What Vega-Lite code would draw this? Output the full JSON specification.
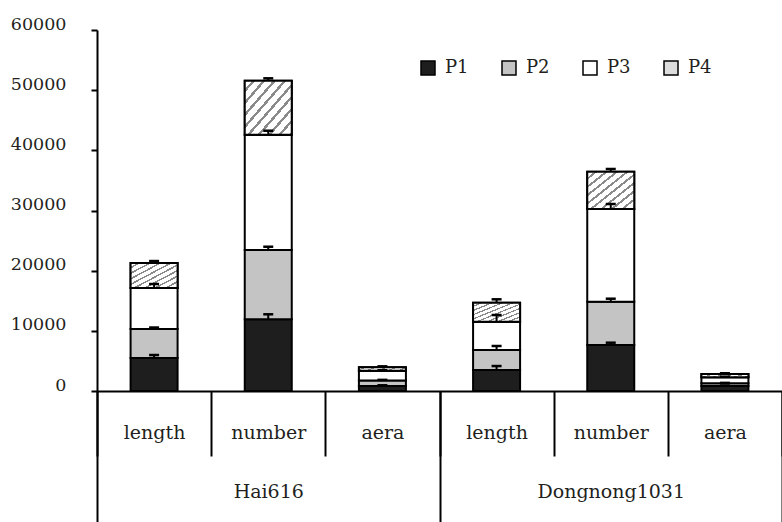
{
  "$schema": "https://vega.github.io/schema/vega-lite/v6.json",
  "autosize": {"type": "none"},
  "padding": {"left": 97, "top": 30, "right": 0, "bottom": 131},
  "width": 685,
  "height": 361,
  "background": "white",
  "config": {"view": {"stroke": null}, "font": "DejaVu Serif"},
  "data": {
    "values": [
      {"bar": "Hai616|length", "group": "Hai616", "part": "P1", "lo": 0, "hi": 5490, "errHi": 5980},
      {"bar": "Hai616|length", "group": "Hai616", "part": "P2", "lo": 5490, "hi": 10300, "errHi": 10550},
      {"bar": "Hai616|length", "group": "Hai616", "part": "P3", "lo": 10300, "hi": 17120, "errHi": 17780},
      {"bar": "Hai616|length", "group": "Hai616", "part": "P4", "lo": 17120, "hi": 21270, "errHi": 21600},
      {"bar": "Hai616|number", "group": "Hai616", "part": "P1", "lo": 0, "hi": 11920, "errHi": 12750},
      {"bar": "Hai616|number", "group": "Hai616", "part": "P2", "lo": 11920, "hi": 23440, "errHi": 23980},
      {"bar": "Hai616|number", "group": "Hai616", "part": "P3", "lo": 23440, "hi": 42600, "errHi": 43260},
      {"bar": "Hai616|number", "group": "Hai616", "part": "P4", "lo": 42600, "hi": 51570, "errHi": 51970},
      {"bar": "Hai616|aera", "group": "Hai616", "part": "P1", "lo": 0, "hi": 850, "errHi": 950},
      {"bar": "Hai616|aera", "group": "Hai616", "part": "P2", "lo": 850, "hi": 1750, "errHi": 1850},
      {"bar": "Hai616|aera", "group": "Hai616", "part": "P3", "lo": 1750, "hi": 3350, "errHi": 3450},
      {"bar": "Hai616|aera", "group": "Hai616", "part": "P4", "lo": 3350, "hi": 3940, "errHi": 4100},
      {"bar": "Dongnong1031|length", "group": "Dongnong1031", "part": "P1", "lo": 0, "hi": 3490, "errHi": 4150},
      {"bar": "Dongnong1031|length", "group": "Dongnong1031", "part": "P2", "lo": 3490, "hi": 6810, "errHi": 7480},
      {"bar": "Dongnong1031|length", "group": "Dongnong1031", "part": "P3", "lo": 6810, "hi": 11520, "errHi": 12630},
      {"bar": "Dongnong1031|length", "group": "Dongnong1031", "part": "P4", "lo": 11520, "hi": 14680, "errHi": 15240},
      {"bar": "Dongnong1031|number", "group": "Dongnong1031", "part": "P1", "lo": 0, "hi": 7650, "errHi": 8030},
      {"bar": "Dongnong1031|number", "group": "Dongnong1031", "part": "P2", "lo": 7650, "hi": 14840, "errHi": 15340},
      {"bar": "Dongnong1031|number", "group": "Dongnong1031", "part": "P3", "lo": 14840, "hi": 30250, "errHi": 31080},
      {"bar": "Dongnong1031|number", "group": "Dongnong1031", "part": "P4", "lo": 30250, "hi": 36450, "errHi": 36900},
      {"bar": "Dongnong1031|aera", "group": "Dongnong1031", "part": "P1", "lo": 0, "hi": 830, "errHi": 900},
      {"bar": "Dongnong1031|aera", "group": "Dongnong1031", "part": "P2", "lo": 830, "hi": 1280, "errHi": 1350},
      {"bar": "Dongnong1031|aera", "group": "Dongnong1031", "part": "P3", "lo": 1280, "hi": 2300, "errHi": 2380},
      {"bar": "Dongnong1031|aera", "group": "Dongnong1031", "part": "P4", "lo": 2300, "hi": 2830, "errHi": 2950}
    ]
  },
  "layer": [
    {
      "layer": [
        {
          "mark": {"type": "bar", "width": 47, "stroke": "black", "strokeWidth": 2},
          "encoding": {
            "x": {
              "field": "bar", "type": "nominal",
              "sort": ["Hai616|length", "Hai616|number", "Hai616|aera", "Dongnong1031|length", "Dongnong1031|number", "Dongnong1031|aera"],
              "scale": {"paddingInner": 0, "paddingOuter": 0},
              "axis": {
                "title": null, "orient": "bottom",
                "labelExpr": "split(datum.label, '|')[1]",
                "tickBand": "extent", "tickSize": 65, "tickWidth": 2, "tickColor": "black",
                "domainColor": "black", "domainWidth": 2,
                "labelFont": "DejaVu Serif", "labelFontSize": 19, "labelColor": "#231f20",
                "labelAngle": 0, "labelPadding": -18, "labelBaseline": "alphabetic"
              }
            },
            "y": {
              "field": "hi", "type": "quantitative",
              "scale": {"domain": [0, 60000], "nice": false},
              "axis": {
                "title": null, "values": [0, 10000, 20000, 30000, 40000, 50000, 60000],
                "format": "d", "grid": false,
                "tickSize": 6, "tickWidth": 2, "tickColor": "black",
                "domainColor": "black", "domainWidth": 2,
                "labelFont": "DejaVu Serif", "labelFontSize": 17.5, "labelColor": "#231f20",
                "labelPadding": 25, "labelBaseline": "alphabetic", "labelOffset": -1
              }
            },
            "y2": {"field": "lo"},
            "color": {
              "field": "part", "type": "nominal",
              "scale": {"domain": ["P1", "P2", "P3", "P4"], "range": ["#1e1e1e", "#c4c4c4", "#ffffff", "#dcdcdc"]},
              "legend": {
                "orient": "none", "legendX": 322, "legendY": 29, "direction": "horizontal",
                "title": null, "symbolType": "square", "symbolSize": 196,
                "symbolStrokeColor": "black", "symbolStrokeWidth": 1.5, "symbolOpacity": 1,
                "labelFont": "DejaVu Serif", "labelFontSize": 18, "labelColor": "#231f20",
                "columnPadding": 30, "labelOffset": 8, "padding": 0
              }
            }
          }
        },
        {
          "transform": [{"filter": "datum.part === 'P4'"}],
          "mark": {
            "type": "bar", "width": 47, "stroke": "black", "strokeWidth": 2,
            "fill": {
              "gradient": "linear", "x1": 0, "y1": 0, "x2": 1, "y2": 1,
              "stops": [
                {"offset": 0, "color": "#ffffff"}, {"offset": 0.0778, "color": "#ffffff"}, {"offset": 0.0778, "color": "#8a8a8a"}, {"offset": 0.1111, "color": "#8a8a8a"},
                {"offset": 0.1111, "color": "#ffffff"}, {"offset": 0.1889, "color": "#ffffff"}, {"offset": 0.1889, "color": "#8a8a8a"}, {"offset": 0.2222, "color": "#8a8a8a"},
                {"offset": 0.2222, "color": "#ffffff"}, {"offset": 0.3, "color": "#ffffff"}, {"offset": 0.3, "color": "#8a8a8a"}, {"offset": 0.3333, "color": "#8a8a8a"},
                {"offset": 0.3333, "color": "#ffffff"}, {"offset": 0.4111, "color": "#ffffff"}, {"offset": 0.4111, "color": "#8a8a8a"}, {"offset": 0.4444, "color": "#8a8a8a"},
                {"offset": 0.4444, "color": "#ffffff"}, {"offset": 0.5222, "color": "#ffffff"}, {"offset": 0.5222, "color": "#8a8a8a"}, {"offset": 0.5556, "color": "#8a8a8a"},
                {"offset": 0.5556, "color": "#ffffff"}, {"offset": 0.6333, "color": "#ffffff"}, {"offset": 0.6333, "color": "#8a8a8a"}, {"offset": 0.6667, "color": "#8a8a8a"},
                {"offset": 0.6667, "color": "#ffffff"}, {"offset": 0.7444, "color": "#ffffff"}, {"offset": 0.7444, "color": "#8a8a8a"}, {"offset": 0.7778, "color": "#8a8a8a"},
                {"offset": 0.7778, "color": "#ffffff"}, {"offset": 0.8556, "color": "#ffffff"}, {"offset": 0.8556, "color": "#8a8a8a"}, {"offset": 0.8889, "color": "#8a8a8a"},
                {"offset": 0.8889, "color": "#ffffff"}, {"offset": 0.9667, "color": "#ffffff"}, {"offset": 0.9667, "color": "#8a8a8a"}, {"offset": 1, "color": "#8a8a8a"}
              ]
            }
          },
          "encoding": {
            "x": {"field": "bar", "type": "nominal", "sort": ["Hai616|length", "Hai616|number", "Hai616|aera", "Dongnong1031|length", "Dongnong1031|number", "Dongnong1031|aera"]},
            "y": {"field": "hi", "type": "quantitative"},
            "y2": {"field": "lo"}
          }
        },
        {
          "mark": {"type": "rule", "stroke": "black", "strokeWidth": 2},
          "encoding": {
            "x": {"field": "bar", "type": "nominal", "sort": ["Hai616|length", "Hai616|number", "Hai616|aera", "Dongnong1031|length", "Dongnong1031|number", "Dongnong1031|aera"]},
            "y": {"field": "hi", "type": "quantitative"},
            "y2": {"field": "errHi"}
          }
        },
        {
          "mark": {"type": "tick", "color": "black", "size": 10, "thickness": 2.5, "opacity": 1},
          "encoding": {
            "x": {"field": "bar", "type": "nominal", "sort": ["Hai616|length", "Hai616|number", "Hai616|aera", "Dongnong1031|length", "Dongnong1031|number", "Dongnong1031|aera"]},
            "y": {"field": "errHi", "type": "quantitative"}
          }
        }
      ]
    },
    {
      "mark": {"type": "bar", "opacity": 0},
      "encoding": {
        "x": {
          "field": "group", "type": "nominal", "sort": ["Hai616", "Dongnong1031"],
          "scale": {"paddingInner": 0, "paddingOuter": 0},
          "axis": {
            "title": null, "orient": "bottom", "domain": false,
            "tickBand": "extent", "tickSize": 131, "tickWidth": 2, "tickColor": "black",
            "labelFont": "DejaVu Serif", "labelFontSize": 19, "labelColor": "#231f20",
            "labelAngle": 0, "labelPadding": -25, "labelBaseline": "alphabetic"
          }
        },
        "y": {"field": "hi", "type": "quantitative"}
      }
    }
  ],
  "resolve": {"scale": {"x": "independent"}, "axis": {"x": "independent"}}
}
